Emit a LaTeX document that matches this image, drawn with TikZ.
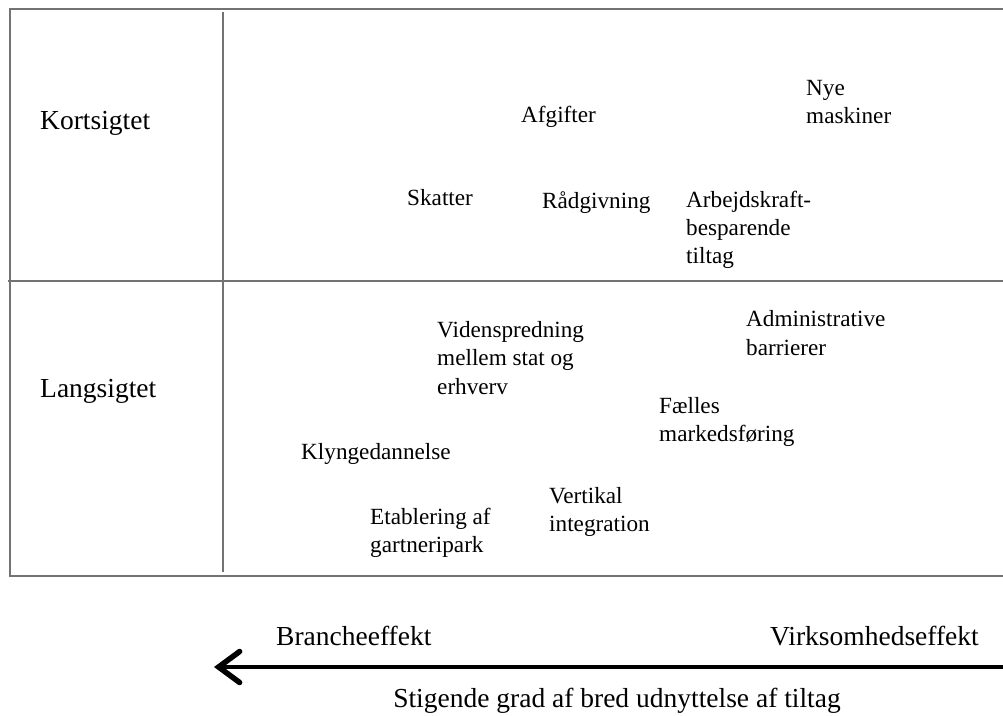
\documentclass[tikz,border=0pt]{standalone}
\usepackage{fontspec}
\setmainfont{Liberation Serif}
\usetikzlibrary{arrows.meta}

\tikzset{
  rule/.style={draw=black!55,line width=1.6pt},
  item/.style={anchor=west,align=left,inner sep=0pt,font=\fontsize{23.2}{28.3}\selectfont},
  head/.style={anchor=west,inner sep=0pt,font=\fontsize{27.5}{32}\selectfont},
}

\begin{document}
\begin{tikzpicture}[x=1pt,y=-1pt]
		\useasboundingbox (0,0) rectangle (1003,715);
		
		% Table
		\draw[rule] (1003,9) -- (10,9) -- (10,576) -- (1003,576);
		\draw[rule] (8,281) -- (1003,281);
		\draw[rule] (223,12) -- (223,572);
		
		% Rows
		\node[head] (kort) at (40,123) {Kortsigtet};
		\node[head] (lang) at (40,391) {Langsigtet};
		
		% Short term
		\node[item] (afgifter) at (521,117) {Afgifter};
		\node[item] (nye) at (806,102) {Nye\\maskiner};
		\node[item] (skatter) at (407,198) {Skatter};
		\node[item] (raad) at (542,203) {Rådgivning};
		\node[item] (arbejd) at (686,230) {Arbejdskraft-\\besparende\\tiltag};
		
		% Long term
		\node[item] (viden) at (437,358) {Videnspredning\\mellem stat og\\erhverv};
		\node[item] (admin) at (746,333) {Administrative\\barrierer};
		\node[item] (faelles) at (659,422) {Fælles\\markedsføring};
		\node[item] (klynge) at (301,454) {Klyngedannelse};
		\node[item] (vertikal) at (549,512) {Vertikal\\integration};
		\node[item] (etabl) at (370,533) {Etablering af\\gartneripark};
		
		% Arrow
		\node[head] (branche) at (276,636) {Brancheeffekt};
		\node[head] (virk) at (770,636) {Virksomhedseffekt};
		\coordinate (start) at (1003,667);
		\coordinate (end) at (214,667);
		\draw[line width=4.3pt,-{Straight Barb[length=21pt,width=31pt,line width=5.5pt,line cap=round]}] (start) -- (end);
		\node[head,anchor=center] (grad) at (617,701) {Stigende grad af bred udnyttelse af tiltag};
\end{tikzpicture}
\end{document}
